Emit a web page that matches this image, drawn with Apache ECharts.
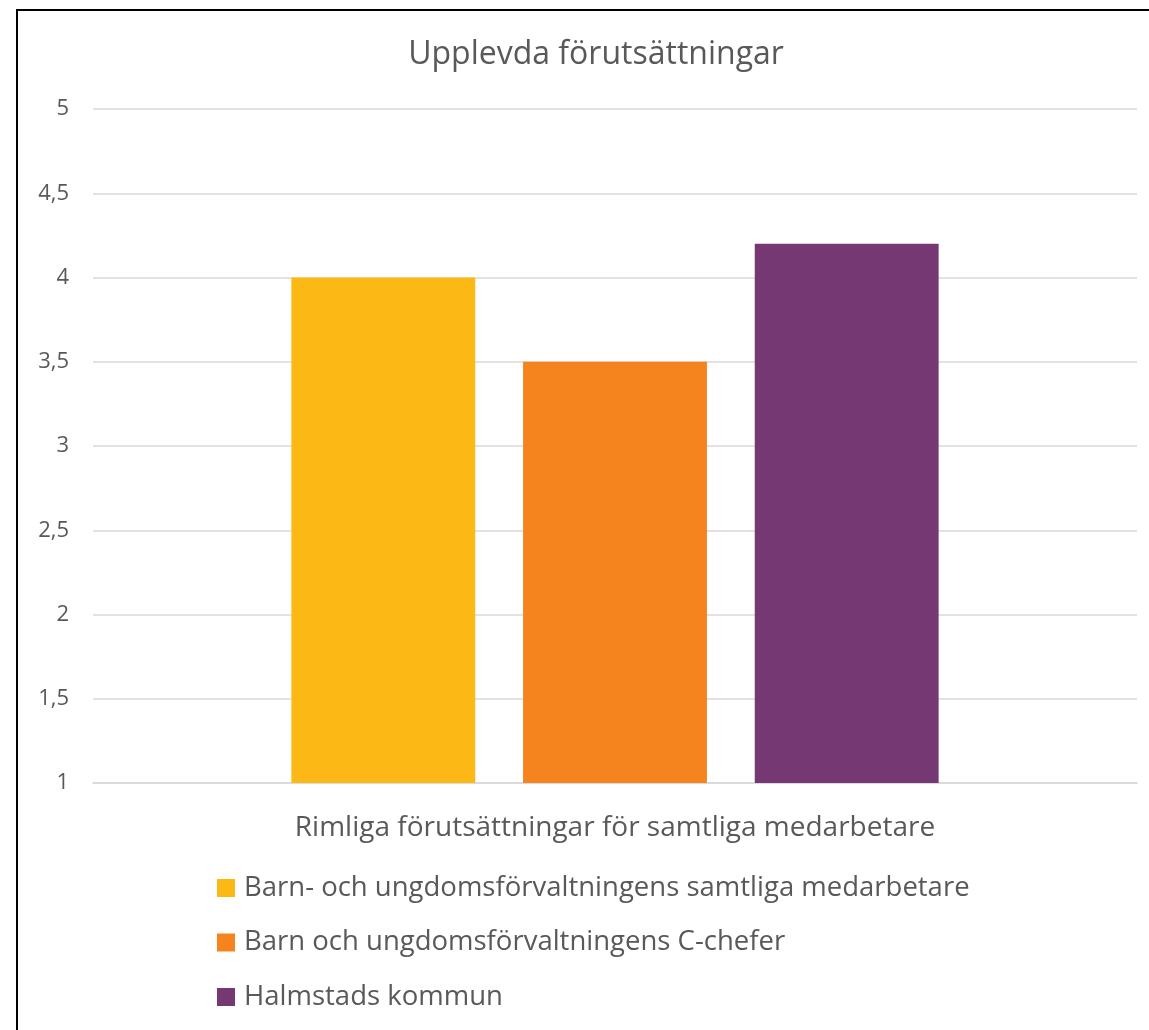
<!DOCTYPE html>
<html lang="sv">
<head>
    <meta charset="UTF-8">
    <title>Upplevda förutsättningar</title>
    <script src="https://cdn.jsdelivr.net/npm/echarts@6/dist/echarts.min.js"></script>
    <style>
        html, body { margin: 0; padding: 0; background: #fff; }
        #frame {
            position: absolute; left: 16px; top: 9px; width: 1140px; height: 1030px;
            border-left: 2px solid #000; border-top: 2px solid #000; border-right: 2px solid #000;
        }
        #chart { position: absolute; left: 0; top: 0; width: 1149px; height: 1030px; }
    </style>
</head>
<body>
<div id="frame"></div>
<div id="chart"></div>
<script type="text/javascript">
    var categories = ['Rimliga förutsättningar för samtliga medarbetare'];
    var seriesNames = [
        'Barn- och ungdomsförvaltningens samtliga medarbetare',
        'Barn och ungdomsförvaltningens C-chefer',
        'Halmstads kommun'
    ];
    var seriesValues = [[4.0], [3.5], [4.2]];
    var seriesColors = ['#FCB916', '#F5841F', '#763872'];

    var font = '"Open Sans", Lato, sans-serif';
    var series = seriesNames.map(function (name, i) {
        return {
            name: name,
            type: 'bar',
            data: seriesValues[i],
            itemStyle: { color: seriesColors[i] },
            barGap: '26%',
            barCategoryGap: '38%'
        };
    });

    var chart = echarts.init(document.getElementById('chart'));
    chart.setOption({
        animation: false,
        title: {
            text: 'Upplevda förutsättningar',
            left: 591, textAlign: 'center', top: 34,
            textStyle: { fontFamily: font, fontSize: 32, fontWeight: 'normal', color: '#595959' }
        },
        legend: {
            orient: 'vertical', left: 217, top: 874, padding: 0,
            icon: 'rect', itemWidth: 18, itemHeight: 18, itemGap: 26.5,
            textStyle: { fontFamily: font, fontSize: 27.5, color: '#595959', lineHeight: 28, padding: [0, 0, 0, 4] },
            data: seriesNames
        },
        grid: { left: 93, right: 12, top: 109, bottom: 247, containLabel: false },
        xAxis: {
            type: 'category',
            data: categories,
            axisLine: { lineStyle: { color: '#d9d9d9', width: 1.5 } },
            axisTick: { show: false },
            axisLabel: { fontFamily: font, fontSize: 28, color: '#595959', margin: 31 }
        },
        yAxis: {
            type: 'value', min: 1, max: 5, interval: 0.5,
            axisLine: { show: false },
            axisTick: { show: false },
            splitLine: { lineStyle: { color: '#d9d9d9', width: 1.5 } },
            axisLabel: {
                fontFamily: font, fontSize: 22, color: '#595959', margin: 24,
                formatter: function (v) { return String(v).replace('.', ','); }
            }
        },
        series: series
    });
</script>
</body>
</html>
